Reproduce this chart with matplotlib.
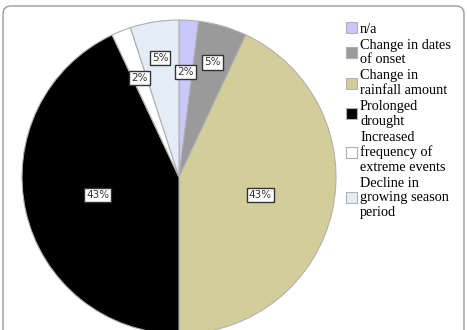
import numpy as np
import matplotlib.pyplot as plt
from matplotlib.patches import FancyBboxPatch

# slice data, clockwise from 12 o'clock
categories = ['n/a', 'Change in dates\nof onset', 'Change in\nrainfall amount',
              'Prolonged\ndrought', 'Increased\nfrequency of\nextreme events',
              'Decline in\ngrowing season\nperiod']
shares = [2, 5, 43, 43, 2, 5]
pct_labels = ['2%', '5%', '43%', '43%', '2%', '5%']
colors = ['#c8c8fa', '#9a9a9a', '#d3ce99', '#000000', '#ffffff', '#e4ecf8']
label_dist = [0.67, 0.76, 0.53, 0.53, 0.68, 0.77]

fig = plt.figure(figsize=(4.67, 3.30), dpi=100)
ax = fig.add_axes([0, 0, 1, 1])

# rounded frame around the picture
frame = FancyBboxPatch((3, -20), 461, 344, boxstyle='round,pad=0,rounding_size=8',
                       fc='white', ec='#9a9a9a', lw=1.0, zorder=0)
ax.add_patch(frame)

cx, cy, r = 179, 153, 157
wedges, _ = ax.pie(shares, colors=colors, startangle=90, counterclock=False,
                   center=(cx, cy), radius=r, frame=True,
                   wedgeprops=dict(edgecolor='#b0b0b0', linewidth=0.8))
ax.set_xlim(0, 467)
ax.set_ylim(0, 330)
ax.axis('off')

for w, txt, d in zip(wedges, pct_labels, label_dist):
    ang = np.deg2rad((w.theta1 + w.theta2) / 2)
    x = cx + d * r * np.cos(ang)
    y = cy + d * r * np.sin(ang)
    ax.text(x, y, txt, ha='center', va='center', fontsize=7.5, family='DejaVu Sans',
            color='#333333',
            bbox=dict(boxstyle='square,pad=0.2', fc='white', ec='#333333', lw=1.0))

leg = ax.legend(wedges, categories, loc='upper left', bbox_to_anchor=(0.728, 0.95),
                frameon=False, prop={'family': 'Liberation Serif', 'size': 10.3},
                handlelength=0.8, handleheight=0.8, handletextpad=0.2,
                labelspacing=0.22, borderaxespad=0)
for t in leg.get_texts():
    t.set_linespacing(1.15)
for h in leg.legend_handles:
    h.set_edgecolor('#b0b0b0')

fig.savefig('out.png', dpi=100)
